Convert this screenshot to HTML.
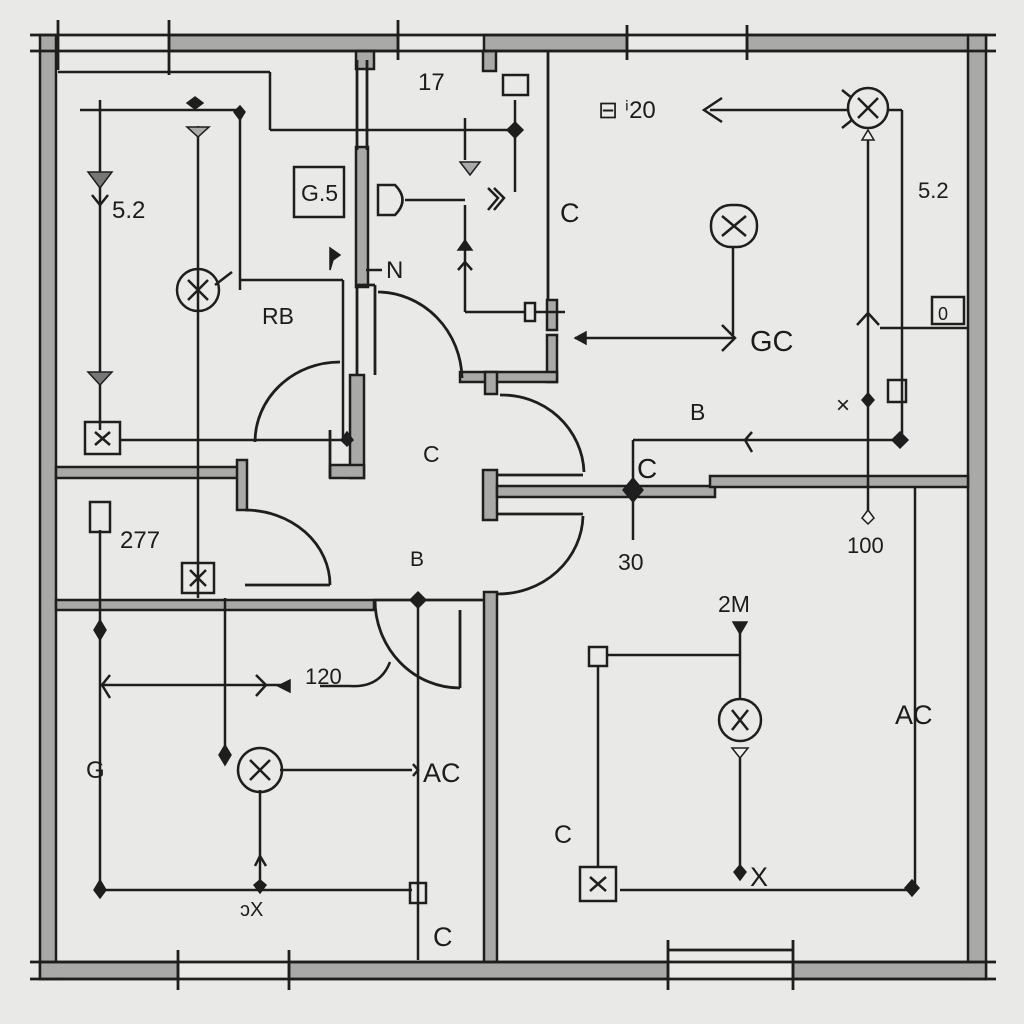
<!DOCTYPE html>
<html><head><meta charset="utf-8"><style>
html,body{margin:0;padding:0;background:#e9e9e7}
svg{display:block}
text{font-family:"Liberation Sans",sans-serif;fill:#1c1c1c}
</style></head><body>
<svg width="1024" height="1024" viewBox="0 0 1024 1024" xmlns="http://www.w3.org/2000/svg">
<rect width="1024" height="1024" fill="#e9e9e7"/>
<g fill="#a9a9a7" stroke="#1e1e1e" stroke-width="2.5">
<rect x="169" y="35" width="229" height="16"/>
<rect x="484" y="35" width="143" height="16"/>
<rect x="747" y="35" width="239" height="16"/>
<rect x="40" y="35" width="16" height="944"/>
<rect x="968" y="35" width="18" height="944"/>
<rect x="40" y="962" width="138" height="17"/>
<rect x="289" y="962" width="379" height="17"/>
<rect x="793" y="962" width="193" height="17"/>
<rect x="356" y="51" width="18" height="18"/>
<rect x="483" y="51" width="13" height="20"/>
<rect x="356" y="147" width="12" height="140"/>
<rect x="350" y="375" width="14" height="103"/>
<rect x="330" y="465" width="34" height="13"/>
<rect x="56" y="467" width="189" height="11"/>
<rect x="237" y="460" width="10" height="50"/>
<rect x="56" y="600" width="318" height="10"/>
<rect x="484" y="592" width="13" height="370"/>
<rect x="547" y="300" width="10" height="30"/>
<rect x="547" y="335" width="10" height="47"/>
<rect x="460" y="372" width="97" height="10"/>
<rect x="485" y="372" width="12" height="22"/>
<rect x="483" y="470" width="14" height="50"/>
<rect x="497" y="486" width="218" height="11"/>
<rect x="710" y="476" width="258" height="11"/>
</g>
<g fill="none" stroke="#1e1e1e" stroke-width="2.8">
<line x1="30" y1="35" x2="996" y2="35"/><line x1="30" y1="51" x2="996" y2="51"/>
<line x1="30" y1="962" x2="996" y2="962"/><line x1="30" y1="979" x2="996" y2="979"/>
<line x1="58" y1="20" x2="58" y2="70"/><line x1="169" y1="20" x2="169" y2="75"/>
<line x1="398" y1="20" x2="398" y2="60"/><line x1="627" y1="25" x2="627" y2="60"/><line x1="747" y1="25" x2="747" y2="60"/>
<line x1="178" y1="950" x2="178" y2="990"/><line x1="289" y1="950" x2="289" y2="990"/>
<line x1="668" y1="940" x2="668" y2="990"/><line x1="793" y1="940" x2="793" y2="990"/><line x1="668" y1="950" x2="793" y2="950"/>
<line x1="357" y1="60" x2="357" y2="150"/><line x1="367" y1="60" x2="367" y2="150"/>
<line x1="548" y1="52" x2="548" y2="300"/>
<line x1="357" y1="285" x2="357" y2="375"/><line x1="375" y1="285" x2="375" y2="375"/><line x1="357" y1="285" x2="375" y2="285"/>
<line x1="374" y1="600" x2="485" y2="600"/>
<line x1="497" y1="475" x2="583" y2="475"/><line x1="497" y1="514" x2="583" y2="514"/>
<line x1="330" y1="430" x2="330" y2="478"/>
<line x1="245" y1="585" x2="330" y2="585"/>
<line x1="460" y1="610" x2="460" y2="688"/>
<path d="M378 292 A85 88 0 0 1 462 378"/>
<path d="M340 362 A85 80 0 0 0 255 442"/>
<path d="M245 510 A85 75 0 0 1 330 585"/>
<path d="M500 395 A82 80 0 0 1 584 472"/>
<path d="M583 516 A85 80 0 0 1 497 594"/>
<path d="M375 600 A85 88 0 0 0 460 688"/>
</g>
<g fill="none" stroke="#1e1e1e" stroke-width="2.5">
<line x1="58" y1="72" x2="270" y2="72"/><line x1="270" y1="72" x2="270" y2="130"/><line x1="270" y1="130" x2="515" y2="130"/>
<line x1="80" y1="110" x2="240" y2="110"/>
<line x1="100" y1="100" x2="100" y2="430"/>
<line x1="240" y1="112" x2="240" y2="290"/>
<line x1="240" y1="280" x2="343" y2="280"/><line x1="343" y1="280" x2="343" y2="440"/>
<line x1="198" y1="126" x2="198" y2="598"/>
<line x1="120" y1="440" x2="345" y2="440"/>
<line x1="100" y1="530" x2="100" y2="890"/>
<line x1="225" y1="598" x2="225" y2="750"/>
<line x1="100" y1="685" x2="290" y2="685"/>
<line x1="100" y1="890" x2="412" y2="890"/>
<line x1="260" y1="790" x2="260" y2="885"/>
<line x1="280" y1="770" x2="412" y2="770"/>
<line x1="418" y1="600" x2="418" y2="960"/>
<path d="M350 686 Q380 688 390 662"/>
<line x1="320" y1="686" x2="350" y2="686"/>
<line x1="515" y1="100" x2="515" y2="192"/>
<line x1="465" y1="118" x2="465" y2="160"/>
<line x1="405" y1="200" x2="465" y2="200"/>
<line x1="465" y1="205" x2="465" y2="312"/><line x1="465" y1="312" x2="525" y2="312"/>
<line x1="535" y1="312" x2="565" y2="312"/>
<line x1="366" y1="270" x2="382" y2="270"/>
<line x1="710" y1="110" x2="848" y2="110"/>
<path d="M722 98 L704 110 L722 122"/>
<line x1="868" y1="140" x2="868" y2="515"/>
<line x1="888" y1="110" x2="902" y2="110"/><line x1="902" y1="110" x2="902" y2="440"/>
<line x1="880" y1="328" x2="968" y2="328"/>
<path d="M857 325 L868 313 L879 325"/>
<line x1="733" y1="246" x2="733" y2="335"/>
<line x1="575" y1="338" x2="735" y2="338"/>
<path d="M722 325 L735 338 L722 351"/>
<line x1="633" y1="440" x2="900" y2="440"/><line x1="633" y1="440" x2="633" y2="540"/>
<path d="M752 432 L745 440 L752 452"/>
<line x1="915" y1="487" x2="915" y2="890"/>
<line x1="740" y1="630" x2="740" y2="700"/>
<line x1="607" y1="655" x2="740" y2="655"/>
<line x1="598" y1="666" x2="598" y2="868"/>
<line x1="740" y1="758" x2="740" y2="870"/>
<line x1="620" y1="890" x2="912" y2="890"/>
<rect x="85" y="422" width="35" height="32"/><path d="M95 432 L110 445 M110 432 L95 445"/>
<rect x="182" y="563" width="32" height="30"/><path d="M190 570 L206 586 M206 570 L190 586"/>
<rect x="90" y="502" width="20" height="30"/>
<rect x="580" y="867" width="36" height="34"/><path d="M590 877 L606 891 M606 877 L590 891"/>
<rect x="589" y="647" width="18" height="19"/>
<rect x="410" y="883" width="16" height="20"/>
<rect x="503" y="75" width="25" height="20"/>
<rect x="294" y="167" width="50" height="50"/>
<rect x="932" y="297" width="32" height="27"/>
<rect x="888" y="380" width="18" height="22"/>
<rect x="525" y="303" width="10" height="18"/>
<circle cx="198" cy="290" r="21"/><path d="M188 280 L208 300 M208 280 L188 300 M215 285 L232 272"/>
<circle cx="260" cy="770" r="22"/><path d="M250 760 L270 780 M270 760 L250 780"/>
<circle cx="740" cy="720" r="21"/><path d="M732 710 L748 730 M748 710 L732 730"/>
<rect x="711" y="205" width="46" height="42" rx="20"/><path d="M722 216 L746 236 M746 216 L722 236"/>
<circle cx="868" cy="108" r="20"/><path d="M858 98 L878 118 M878 98 L858 118 M842 90 L852 98 M842 128 L852 120"/>
<path d="M378 185 L395 185 Q410 200 395 215 L378 215 Z"/>
<path d="M488 188 L498 198 L488 210 M494 188 L504 198 L494 210"/>
</g>
<g fill="#1e1e1e" stroke="#1e1e1e" stroke-width="1.5">
<path d="M88 172 L112 172 L100 188 Z" fill="#777"/>
<path d="M88 372 L112 372 L100 385 Z" fill="#777"/>
<path d="M187 127 L209 127 L198 137 Z" fill="#aaa"/>
<path d="M460 162 L480 162 L470 175 Z" fill="#aaa"/>
<path d="M195 97 L203 103 L195 109 L187 103 Z"/>
<path d="M240 106 L245 112 L240 120 L234 112 Z"/>
<path d="M515 122 L523 130 L515 138 L507 130 Z"/>
<path d="M347 432 L353 440 L347 446 L341 440 Z"/>
<path d="M633 478 L643 490 L633 502 L623 490 Z"/>
<path d="M418 592 L426 600 L418 608 L410 600 Z"/>
<path d="M100 620 L106 630 L100 640 L94 630 Z"/>
<path d="M100 880 L106 890 L100 898 L94 890 Z"/>
<path d="M225 745 L231 755 L225 765 L219 755 Z"/>
<path d="M260 880 L266 885 L260 893 L254 885 Z"/>
<path d="M740 865 L746 872 L740 880 L734 872 Z"/>
<path d="M912 880 L919 888 L912 896 L905 888 Z"/>
<path d="M868 393 L874 400 L868 407 L862 400 Z"/>
<path d="M900 432 L908 440 L900 448 L892 440 Z"/>
<path d="M868 510 L874 518 L868 524 L862 518 Z" fill="#eee"/>
<path d="M733 622 L747 622 L740 634 Z"/>
<path d="M732 748 L748 748 L740 758 Z" fill="#eee"/>
<path d="M862 140 L874 140 L868 130 Z" fill="#eee"/>
<path d="M290 680 L278 686 L290 692 Z"/>
<path d="M575 338 L586 332 L586 344 Z"/>
<path d="M458 250 L465 240 L472 250 Z"/>
<path d="M330 248 L340 255 L333 260 L330 270 Z"/>
</g>
<g fill="none" stroke="#1e1e1e" stroke-width="2.5">
<path d="M110 675 L102 685 L110 698"/>
<path d="M256 675 L266 685 L256 696"/>
<path d="M255 866 L260 856 L266 866"/>
<path d="M458 270 L465 262 L472 270"/>
<path d="M413 764 L418 770 L413 776"/>
<path d="M92 195 L100 205 L108 195"/>
</g>
<g font-size="24">
<text x="418" y="90">17</text>
<text x="112" y="218">5.2</text>
<text x="301" y="201" font-size="23">G.5</text>
<text x="386" y="278">N</text>
<text x="262" y="324" font-size="23">RB</text>
<text x="560" y="222" font-size="27">C</text>
<text x="598" y="118" font-size="24">⊟ ⁱ20</text>
<text x="918" y="198" font-size="22">5.2</text>
<text x="750" y="351" font-size="29">GC</text>
<text x="938" y="320" font-size="18">0</text>
<text x="836" y="413" font-size="24">×</text>
<text x="690" y="420" font-size="23">B</text>
<text x="637" y="478" font-size="28">C</text>
<text x="423" y="462" font-size="23">C</text>
<text x="120" y="548" font-size="24">277</text>
<text x="410" y="566" font-size="21">B</text>
<text x="618" y="570" font-size="23">30</text>
<text x="847" y="553" font-size="22">100</text>
<text x="718" y="612" font-size="23">2M</text>
<text x="305" y="684" font-size="22">120</text>
<text x="895" y="724" font-size="27">AC</text>
<text x="423" y="782" font-size="27">AC</text>
<text x="86" y="778" font-size="24">G</text>
<text x="554" y="843" font-size="25">C</text>
<text x="750" y="886" font-size="27">X</text>
<text x="240" y="916" font-size="20">ɔX</text>
<text x="433" y="946" font-size="27">C</text>
</g>
</svg>
</body></html>
